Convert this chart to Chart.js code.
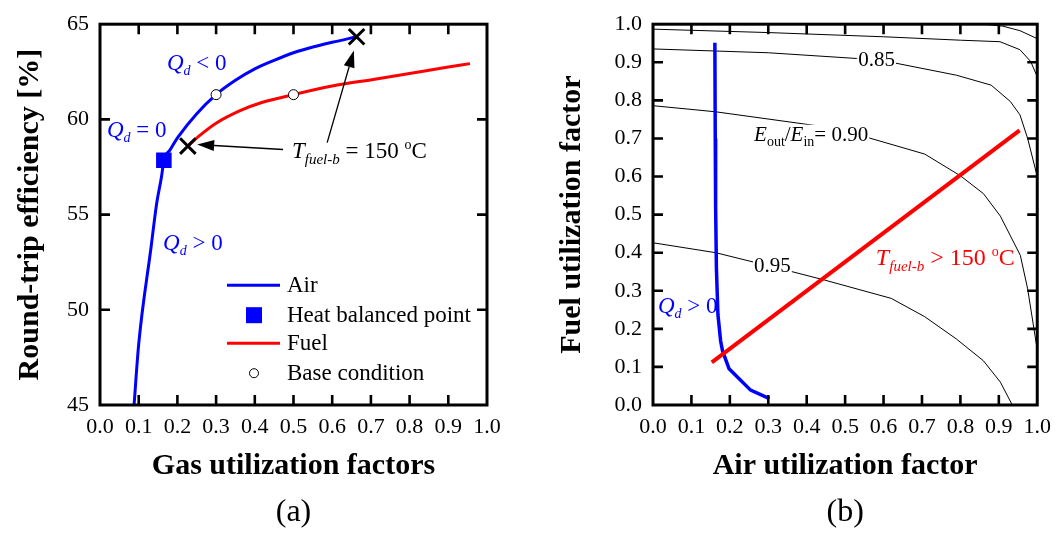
<!DOCTYPE html>
<html>
<head>
<meta charset="utf-8">
<script src="https://cdn.jsdelivr.net/npm/chart.js@4.4.0/dist/chart.umd.min.js"></script>
<style>
  body { margin: 0; background: #fff; }
  .panel { position: absolute; top: 0; width: 530px; height: 535px; }
</style>
</head>
<body>
<div class="panel" style="left:0"><canvas id="chartA"></canvas></div>
<div class="panel" style="left:530px"><canvas id="chartB"></canvas></div>
<script>
const SERIF = "'Liberation Serif', 'Times New Roman', serif";
const RG = s => s + 'px ' + SERIF;
const IT = s => 'italic ' + s + 'px ' + SERIF;

// ---- panel (a) data ----
const uTicks = [0, 0.1, 0.2, 0.3, 0.4, 0.5, 0.6, 0.7, 0.8, 0.9, 1.0];
const effTicks = [45, 50, 55, 60, 65];

const airU   = [0.088, 0.100, 0.132, 0.1465, 0.159, 0.165, 0.181, 0.202, 0.25, 0.30, 0.35, 0.40, 0.45, 0.50, 0.55, 0.60, 0.663];
const airEff = [45.0,  48.2,  53.3,  55.6,   57.0,  57.85, 58.4,  59.08, 60.3, 61.3, 62.05, 62.65, 63.1, 63.5, 63.8, 64.05, 64.34];

const fuelU   = [0.227, 0.258, 0.30, 0.362, 0.42, 0.50, 0.60, 0.706, 0.835, 0.90, 0.956];
const fuelEff = [58.6,  59.16, 59.8, 60.46, 60.9, 61.3, 61.75, 62.1, 62.53, 62.75, 62.93];

const balanceU = [0.165];
const balanceEff = [57.85];
const baseU = [0.30, 0.50];
const baseEff = [61.3, 61.3];
const limitU = [0.227, 0.663];
const limitEff = [58.6, 64.34];

// ---- panel (b) data ----
const fracTicks = [0, 0.1, 0.2, 0.3, 0.4, 0.5, 0.6, 0.7, 0.8, 0.9, 1.0];

const qdAirU  = [0.161, 0.162, 0.163, 0.165, 0.169, 0.176, 0.181, 0.198, 0.254, 0.303];
const qdFuelU = [0.951, 0.70,  0.52,  0.36,  0.237, 0.168, 0.142, 0.095, 0.039, 0.017];

const tfAirU  = [0.153, 0.954];
const tfFuelU = [0.112, 0.721];

const c75AirU  = [0.86, 0.91, 0.955, 1.0];
const c75FuelU = [1.0, 0.995, 0.983, 0.962];
const c80AirU  = [0, 0.3, 0.6, 0.8, 0.903, 0.955, 0.983, 1.0];
const c80FuelU = [0.987, 0.978, 0.967, 0.958, 0.954, 0.933, 0.902, 0.862];
const c85AirU  = [0, 0.3, 0.53, 0.62, 0.79, 0.88, 0.93, 0.955, 0.975, 1.0];
const c85FuelU = [0.935, 0.925, 0.91, 0.90, 0.866, 0.84, 0.797, 0.762, 0.70, 0.60];
const c90AirU  = [0, 0.163, 0.465, 0.55, 0.707, 0.80, 0.86, 0.904, 0.956, 0.975, 1.0];
const c90FuelU = [0.786, 0.77, 0.728, 0.705, 0.659, 0.602, 0.555, 0.496, 0.393, 0.305, 0.145];
const c95AirU  = [0, 0.163, 0.347, 0.447, 0.62, 0.707, 0.79, 0.86, 0.904, 0.935];
const c95FuelU = [0.426, 0.40, 0.354, 0.328, 0.28, 0.232, 0.173, 0.116, 0.06, 0.0];

const pts = (xs, ys) => xs.map((x, i) => ({ x: x, y: ys[i] }));

// rich text: parts drawn one after another on a baseline
function rich(ctx, x, y, parts, color, bg) {
  ctx.save();
  ctx.textAlign = 'left';
  ctx.textBaseline = 'alphabetic';
  let w = 0;
  parts.forEach(p => { ctx.font = p.f; w += ctx.measureText(p.t).width; });
  if (bg) {
    ctx.fillStyle = '#fff';
    ctx.fillRect(x - 1, y - 16, w + 2, 22);
  }
  ctx.fillStyle = color;
  let cx = x;
  parts.forEach(p => {
    ctx.font = p.f;
    ctx.fillText(p.t, cx, y + (p.dy || 0));
    cx += ctx.measureText(p.t).width;
  });
  ctx.restore();
}

function arrow(ctx, x1, y1, x2, y2) {
  const a = Math.atan2(y2 - y1, x2 - x1);
  const len = 17, hw = 5.5;
  const bx = x2 - len * Math.cos(a), by = y2 - len * Math.sin(a);
  ctx.save();
  ctx.strokeStyle = '#000';
  ctx.fillStyle = '#000';
  ctx.lineWidth = 1.3;
  ctx.beginPath(); ctx.moveTo(x1, y1); ctx.lineTo(bx, by); ctx.stroke();
  ctx.beginPath();
  ctx.moveTo(x2, y2);
  ctx.lineTo(bx + hw * Math.sin(a), by - hw * Math.cos(a));
  ctx.lineTo(bx - hw * Math.sin(a), by + hw * Math.cos(a));
  ctx.closePath(); ctx.fill();
  ctx.restore();
}

// frame + inward ticks on all sides
function drawFrame(chart) {
  const ctx = chart.ctx, a = chart.chartArea;
  const xs = chart.scales.x, ys = chart.scales.y;
  ctx.save();
  ctx.strokeStyle = '#000';
  ctx.lineWidth = 2.6;
  xs.ticks.forEach(t => {
    const px = xs.getPixelForValue(t.value);
    if (px <= a.left + 1 || px >= a.right - 1) return;
    ctx.beginPath();
    ctx.moveTo(px, a.bottom); ctx.lineTo(px, a.bottom - 10);
    ctx.moveTo(px, a.top); ctx.lineTo(px, a.top + 10);
    ctx.stroke();
  });
  ys.ticks.forEach(t => {
    const py = ys.getPixelForValue(t.value);
    if (py <= a.top + 1 || py >= a.bottom - 1) return;
    ctx.beginPath();
    ctx.moveTo(a.left, py); ctx.lineTo(a.left + 10, py);
    ctx.moveTo(a.right, py); ctx.lineTo(a.right - 10, py);
    ctx.stroke();
  });
  ctx.lineWidth = 3;
  ctx.strokeRect(a.left, a.top, a.right - a.left, a.bottom - a.top);
  ctx.restore();
}

function caption(chart, text) {
  const ctx = chart.ctx, a = chart.chartArea;
  ctx.save();
  ctx.font = RG(32);
  ctx.fillStyle = '#000';
  ctx.textAlign = 'center';
  ctx.textBaseline = 'middle';
  ctx.fillText(text, (a.left + a.right) / 2, 513);
  ctx.restore();
}

function axes(xTicks, yTicks, xTitle, yTitle, yWidth, yTitlePad, xMin, xMax, yMin, yMax, xFmt, yFmt) {
  return {
    x: {
      type: 'linear', min: xMin, max: xMax,
      afterBuildTicks: s => { s.ticks = xTicks.map(v => ({ value: v })); },
      afterFit: s => { s.height = 79; },
      grid: { display: false, drawTicks: false },
      border: { display: false },
      ticks: { autoSkip: false, maxRotation: 0, padding: 9, color: '#000', font: { family: SERIF, size: 22 }, callback: xFmt },
      title: { display: true, text: xTitle, color: '#000', padding: 0, font: { family: SERIF, size: 30, weight: 'bold' } }
    },
    y: {
      type: 'linear', min: yMin, max: yMax,
      afterBuildTicks: s => { s.ticks = yTicks.map(v => ({ value: v })); },
      afterFit: s => { s.width = yWidth; },
      grid: { display: false, drawTicks: false },
      border: { display: false },
      ticks: { autoSkip: false, padding: 11, color: '#000', font: { family: SERIF, size: 22 }, callback: yFmt },
      title: { display: true, text: yTitle, color: '#000', padding: { top: yTitlePad, bottom: 0 }, font: { family: SERIF, size: 30, weight: 'bold' } }
    }
  };
}

const fmt1 = v => Number(v).toFixed(1);
const fmt0 = v => String(v);

// ---------------- panel (a) ----------------
const annotA = {
  id: 'annotA',
  afterDatasetsDraw(chart) {
    const ctx = chart.ctx, xs = chart.scales.x, ys = chart.scales.y, a = chart.chartArea;
    const X = v => xs.getPixelForValue(v), Y = v => ys.getPixelForValue(v);
    const blue = '#0000ff';
    rich(ctx, X(0.173), Y(62.62), [{ t: 'Q', f: IT(23) }, { t: 'd', f: IT(14), dy: 5 }, { t: ' < 0', f: RG(23) }], blue);
    rich(ctx, X(0.018), Y(59.09), [{ t: 'Q', f: IT(23) }, { t: 'd', f: IT(14), dy: 5 }, { t: ' = 0', f: RG(23) }], blue);
    rich(ctx, X(0.163), Y(53.13), [{ t: 'Q', f: IT(23) }, { t: 'd', f: IT(14), dy: 5 }, { t: ' > 0', f: RG(23) }], blue);
    rich(ctx, X(0.496), Y(57.95), [{ t: 'T', f: IT(23) }, { t: 'fuel-b', f: IT(15), dy: 6 }, { t: ' = 150 ', f: RG(23) }, { t: 'o', f: RG(14), dy: -9 }, { t: 'C', f: RG(23) }], '#000');
    arrow(ctx, X(0.473), Y(58.42), X(0.251), Y(58.68));
    arrow(ctx, X(0.587), Y(58.78), X(0.656), Y(63.62));

    // legend
    const lx = a.left + 127, tx = a.left + 187;
    const rows = [a.top + 261, a.top + 291, a.top + 319, a.top + 349];
    ctx.save();
    ctx.lineWidth = 3;
    ctx.strokeStyle = blue;
    ctx.beginPath(); ctx.moveTo(lx, rows[0]); ctx.lineTo(lx + 53, rows[0]); ctx.stroke();
    ctx.fillStyle = blue;
    ctx.fillRect(lx + 19, rows[1] - 8, 16, 16);
    ctx.strokeStyle = '#ff0000';
    ctx.beginPath(); ctx.moveTo(lx + 0, rows[2]); ctx.lineTo(lx + 53, rows[2]); ctx.stroke();
    ctx.lineWidth = 1;
    ctx.strokeStyle = '#000';
    ctx.fillStyle = '#fff';
    ctx.beginPath(); ctx.arc(lx + 27, rows[3], 4.5, 0, Math.PI * 2); ctx.fill(); ctx.stroke();
    ctx.fillStyle = '#000';
    ctx.font = RG(23);
    ctx.textBaseline = 'middle';
    ['Air', 'Heat balanced point', 'Fuel', 'Base condition'].forEach((s, i) => ctx.fillText(s, tx, rows[i] + 1));
    ctx.restore();

    drawFrame(chart);
    caption(chart, '(a)');
  }
};

new Chart(document.getElementById('chartA'), {
  type: 'scatter',
  data: {
    datasets: [
      { label: 'Air', data: pts(airU, airEff), showLine: true, borderColor: '#0000ff', borderWidth: 3, pointRadius: 0, cubicInterpolationMode: 'monotone', order: 3 },
      { label: 'Fuel', data: pts(fuelU, fuelEff), showLine: true, borderColor: '#ff0000', borderWidth: 3, pointRadius: 0, cubicInterpolationMode: 'monotone', order: 3 },
      { label: 'Heat balanced point', data: pts(balanceU, balanceEff), pointStyle: 'rect', pointRadius: 11, backgroundColor: '#0000ff', borderColor: '#0000ff', borderWidth: 0, order: 1 },
      { label: 'Base condition', data: pts(baseU, baseEff), pointStyle: 'circle', pointRadius: 5, backgroundColor: '#fff', borderColor: '#000', borderWidth: 1, order: 1 },
      { label: 'T fuel-b = 150 oC', data: pts(limitU, limitEff), pointStyle: 'crossRot', pointRadius: 11, borderColor: '#000', borderWidth: 3, order: 0 }
    ]
  },
  options: {
    responsive: true,
    maintainAspectRatio: false,
    animation: false,
    events: [],
    layout: { padding: { left: 0, right: 43, top: 19, bottom: 51 } },
    plugins: { legend: { display: false }, tooltip: { enabled: false } },
    scales: axes(uTicks, effTicks, 'Gas utilization factors', 'Round-trip efficiency [%]', 100, 12, 0, 1, 45, 65, fmt1, fmt0)
  },
  plugins: [annotA]
});

// ---------------- panel (b) ----------------
const annotB = {
  id: 'annotB',
  afterDatasetsDraw(chart) {
    const ctx = chart.ctx, xs = chart.scales.x, ys = chart.scales.y;
    const X = v => xs.getPixelForValue(v), Y = v => ys.getPixelForValue(v);
    rich(ctx, X(0.534), Y(0.889), [{ t: '0.85', f: RG(21) }], '#000', true);
    rich(ctx, X(0.263), Y(0.694), [{ t: 'E', f: IT(21) }, { t: 'out', f: RG(14), dy: 5 }, { t: '/', f: RG(21) }, { t: 'E', f: IT(21) }, { t: 'in', f: RG(14), dy: 5 }, { t: '= 0.90', f: RG(21) }], '#000', true);
    rich(ctx, X(0.263), Y(0.350), [{ t: '0.95', f: RG(21) }], '#000', true);
    rich(ctx, X(0.013), Y(0.241), [{ t: 'Q', f: IT(23) }, { t: 'd', f: IT(14), dy: 5 }, { t: ' > 0', f: RG(23) }], '#0000ff');
    rich(ctx, X(0.58), Y(0.368), [{ t: 'T', f: IT(24) }, { t: 'fuel-b', f: IT(15), dy: 6 }, { t: ' > 150 ', f: RG(24) }, { t: 'o', f: RG(14), dy: -9 }, { t: 'C', f: RG(24) }], '#ff0000');
    drawFrame(chart);
    caption(chart, '(b)');
  }
};

const contour = (xs, ys) => ({ data: pts(xs, ys), showLine: true, borderColor: '#000', borderWidth: 1, pointRadius: 0, tension: 0, order: 5 });

new Chart(document.getElementById('chartB'), {
  type: 'scatter',
  data: {
    datasets: [
      Object.assign(contour(c75AirU, c75FuelU), { label: 'contour upper corner' }),
      Object.assign(contour(c80AirU, c80FuelU), { label: 'contour top' }),
      Object.assign(contour(c85AirU, c85FuelU), { label: '0.85' }),
      Object.assign(contour(c90AirU, c90FuelU), { label: '0.90' }),
      Object.assign(contour(c95AirU, c95FuelU), { label: '0.95' }),
      { label: 'Qd > 0', data: pts(qdAirU, qdFuelU), showLine: true, borderColor: '#0000ff', borderWidth: 3.5, pointRadius: 0, tension: 0, order: 1 },
      { label: 'T fuel-b > 150 oC', data: pts(tfAirU, tfFuelU), showLine: true, borderColor: '#ff0000', borderWidth: 4, pointRadius: 0, order: 0 }
    ]
  },
  options: {
    responsive: true,
    maintainAspectRatio: false,
    animation: false,
    events: [],
    layout: { padding: { left: 0, right: 19, top: 19, bottom: 51 } },
    plugins: { legend: { display: false }, tooltip: { enabled: false } },
    scales: axes(fracTicks, fracTicks, 'Air utilization factor', 'Fuel utilization factor', 123, 24, 0, 1, 0, 1, fmt1, fmt1)
  },
  plugins: [annotB]
});
</script>
</body>
</html>
